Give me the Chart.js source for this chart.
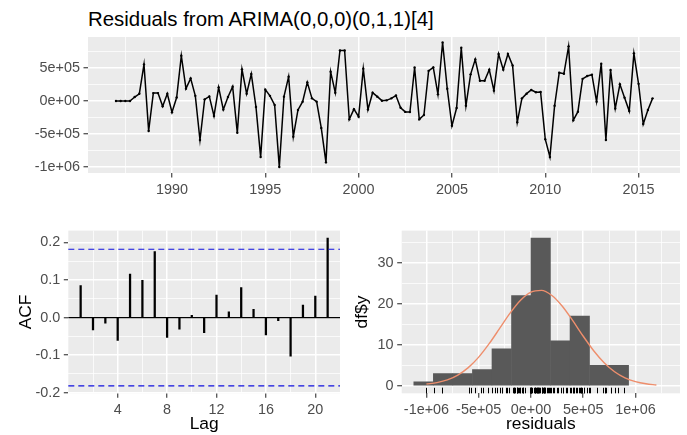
<!DOCTYPE html>
<html><head><meta charset="utf-8">
<script src="https://cdn.jsdelivr.net/npm/chart.js@4/dist/chart.umd.min.js"></script>
<style>
html,body{margin:0;padding:0;background:#fff;}
#wrap{position:relative;width:687px;height:435px;overflow:hidden;background:#fff;}
canvas{position:absolute;left:0;top:0;}
#title{position:absolute;left:88px;top:8.7px;font-family:"Liberation Sans",Arial,sans-serif;font-size:20.4px;line-height:20.4px;color:#000;white-space:nowrap;}
</style></head><body>
<div id="wrap">
<div id="title">Residuals from ARIMA(0,0,0)(0,1,1)[4]</div>
<canvas id="c1" width="687" height="435"></canvas>
<canvas id="c2" width="687" height="435"></canvas>
<canvas id="c3" width="687" height="435"></canvas>
</div>
<script>
// ---------------- data ----------------
const startYear = 1987;
const frequency = 4;
const residuals = [
  0, 0, 0, 0, 60000, 110000, 555000, -455000,
  120000, 120000, -80000, 110000, -170000, 53000, 687000, 187000,
  343000, 78000, -591000, 25000, 70000, -227000, 207000, -130000,
  60000, 217000, -480000, 480000, 110000, 409000, -90000, -850000,
  172000, 78000, -61000, -1000000, 66000, 369000, -540000, -136000,
  -10000, 283000, 40000, -10000, -410000, -930000, 444000, 126000,
  765000, 765000, -278000, -124000, -237000, 490000, -130000, 126000,
  66000, 5000, 10000, 40000, 83000, -103000, -165000, -167000,
  508000, -278000, -212000, 457000, 510000, 101000, 886000, 185000,
  -376000, -106000, 808000, -73000, 404000, 631000, 308000, 308000,
  475000, 157000, 712000, 475000, 712000, 538000, -323000, 40000,
  111000, 167000, 133000, 136000, -578000, -848000, -73000, 429000,
  414000, 828000, -293000, -162000, 336000, 379000, 399000, -10000,
  566000, -591000, 470000, -114000, 253000, 50000, -152000, 722000,
  260000, -348000, -136000, 40000
];
const acfLags   = [1,2,3,4,5,6,7,8,9,10,11,12,13,14,15,16,17,18,19,20,21];
const acfValues = [0.085,-0.033,-0.015,-0.061,0.116,0.099,0.176,-0.053,-0.031,0.006,-0.040,
                   0.060,0.015,0.080,0.022,-0.046,-0.008,-0.103,0.033,0.057,0.212];
const acfCI = 0.182;
const histBinCenters = [-1028000,-841000,-654000,-467000,-280000,-93000,93000,280000,467000,654000,841000];
const histCounts     = [1,3,3,4,9,22,36,11,17,5,5];
const normalX = [-1000000,-900000,-800000,-700000,-600000,-500000,-400000,-300000,-200000,-100000,0,
                 100000,200000,300000,400000,500000,600000,700000,800000,900000,1000000,1100000,1200000];
const normalY = [0.45,0.8,1.45,2.63,4.45,7.01,10.27,13.98,17.7,20.85,22.83,
                 23.25,22.01,19.39,15.87,12.09,8.56,5.64,3.45,1.96,1.04,0.51,0.23];

// ---------------- styling ----------------
const FONT = '"Liberation Sans", Arial, sans-serif';
Chart.defaults.font.family = FONT;
Chart.defaults.animation = false;

const panelBg = { id:'panelBg', beforeDraw(chart){ const {ctx, chartArea:a} = chart; ctx.save(); ctx.fillStyle='#EBEBEB'; ctx.fillRect(a.left,a.top,a.right-a.left,a.bottom-a.top); ctx.restore(); } };

function ticksFor(start, max, step){ const out=[]; for(let k=Math.ceil(start/step-1e-9); k*step<=max+1e-9; k++){ out.push(Math.round(k*step*1e6)/1e6); } return out; }
function sci(v){ if (Math.abs(v) < 1e-9) return '0e+00'; const m = v.toExponential().match(/^(-?[\d.]+)e([+-])(\d+)$/); return m[1]+'e'+m[2]+m[3].padStart(2,'0'); }

function axis(o){
  const isMaj = v => Math.abs(v/o.major - Math.round(v/o.major)) < 1e-6 && !(o.skip && o.skip(v));
  const start = o.tickStart !== undefined ? o.tickStart : o.min;
  const a = {
    type:'linear', min:o.min, max:o.max, offset:false,
    afterBuildTicks: s => { s.ticks = ticksFor(start, o.max, o.step).map(v=>({value:v})); },
    afterFit: s => { if (o.isX) s.height = o.size; else s.width = o.size; },
    grid: { offset:false, drawTicks:true, tickLength:4.5, tickWidth:1.1,
      color: '#FFFFFF',
      lineWidth: c => (c.tick && isMaj(c.tick.value)) ? 1.5 : 0.75,
      tickColor: c => (c.tick && isMaj(c.tick.value)) ? '#333333' : 'rgba(0,0,0,0)' },
    border: { display:false },
    ticks: { autoSkip:false, maxRotation:0, minRotation:0, padding:3.6, color:'#4D4D4D',
      font:{ size:14.4, lineHeight:1.2 }, callback: v => isMaj(v) ? o.fmt(v) : '' },
    title: o.title ? { display:true, text:o.title, color:'#000000', font:{ size:17.4, lineHeight:1.2 }, padding:o.titlePad } : { display:false }
  };
  return a;
}
const common = { responsive:false, animation:false, devicePixelRatio:1,
  plugins:{ legend:{display:false}, tooltip:{enabled:false}, title:{display:false} } };

// ---------------- 1: residual time series ----------------
const tsPoints = residuals.map((r,i)=>({ x: startYear + i/frequency, y: r }));
new Chart(document.getElementById('c1'), {
  type:'line',
  data:{ datasets:[{ data: tsPoints, borderColor:'#000000', borderWidth:1.5, tension:0,
    pointRadius:1.2, pointBackgroundColor:'#000000', pointBorderWidth:0, pointHoverRadius:0 }] },
  options: Object.assign({}, common, {
    layout:{ padding:{ left:0, top:37, right:7, bottom:235 } },
    scales:{
      x: axis({ min:1985.5, max:2017.22, step:2.5, major:5, fmt:v=>String(Math.round(v)), isX:true, size:27 }),
      y: axis({ min:-1091000, max:970000, step:250000, major:500000, fmt:sci, isX:false, size:88 })
    }
  }),
  plugins:[panelBg]
});

// ---------------- 2: ACF ----------------
const acfLines = { id:'acfLines',
  beforeDatasetsDraw(chart){ const {ctx, chartArea:a, scales:{y}} = chart; const py = y.getPixelForValue(0);
    ctx.save(); ctx.strokeStyle='#000'; ctx.lineWidth=1.3; ctx.beginPath(); ctx.moveTo(a.left,py); ctx.lineTo(a.right,py); ctx.stroke(); ctx.restore(); },
  afterDatasetsDraw(chart){ const {ctx, chartArea:a, scales:{y}} = chart;
    ctx.save(); ctx.strokeStyle='#1010E0'; ctx.lineWidth=1.1; ctx.setLineDash([6,4]);
    [acfCI, -acfCI].forEach(v=>{ const py = y.getPixelForValue(v); ctx.beginPath(); ctx.moveTo(a.left,py); ctx.lineTo(a.right,py); ctx.stroke(); });
    ctx.restore(); } };
new Chart(document.getElementById('c2'), {
  type:'bar',
  data:{ datasets:[{ data: acfLags.map((l,i)=>({x:l, y:acfValues[i]})), backgroundColor:'#000000', barThickness:1.6, borderWidth:0 }] },
  options: Object.assign({}, common, {
    layout:{ padding:{ left:0, top:230.6, right:347, bottom:0 } },
    scales:{
      x: axis({ min:0, max:22, step:2, tickStart:2, major:4, fmt:v=>String(Math.round(v)), isX:true, size:41.7, title:'Lag', titlePad:{top:0,bottom:0} }),
      y: axis({ min:-0.2017, max:0.2317, step:0.05, major:0.1, fmt:v=>(Math.abs(v)<1e-9?0:v).toFixed(1), isX:false, size:68.3, title:'ACF', titlePad:{top:15.3,bottom:0} })
    }
  }),
  plugins:[panelBg, acfLines]
});

// ---------------- 3: histogram ----------------
const rug = { id:'rug', afterDatasetsDraw(chart){ const {ctx, chartArea:a, scales:{x}} = chart;
  ctx.save(); ctx.strokeStyle='#000'; ctx.lineWidth=1; ctx.beginPath();
  residuals.forEach(r=>{ const px = Math.round(x.getPixelForValue(r))+0.5; ctx.moveTo(px,a.bottom); ctx.lineTo(px,a.bottom-5.5); });
  ctx.stroke(); ctx.restore(); } };
new Chart(document.getElementById('c3'), {
  type:'bar',
  data:{ datasets:[
    { type:'line', data: normalX.map((v,i)=>({x:v, y:normalY[i]})), borderColor:'#EE8E6C', borderWidth:1.4,
      pointRadius:0, cubicInterpolationMode:'monotone', order:0 },
    { type:'bar', data: histBinCenters.map((c,i)=>({x:c, y:histCounts[i]})), backgroundColor:'#595959',
      barPercentage:1, categoryPercentage:1, borderWidth:0, order:1 }
  ] },
  options: Object.assign({}, common, {
    layout:{ padding:{ left:340, top:230.6, right:7, bottom:0 } },
    scales:{
      x: axis({ min:-1237000, max:1426000, step:250000, major:500000, fmt:sci, isX:true, size:41.7, title:'residuals', titlePad:{top:0,bottom:0} }),
      y: axis({ min:-1.8, max:37.8, step:5, tickStart:0, major:10, fmt:v=>String(Math.round(v)), isX:false, size:61.7, title:'df$y', titlePad:{top:11.6,bottom:0} })
    }
  }),
  plugins:[panelBg, rug]
});
</script>
</body></html>
